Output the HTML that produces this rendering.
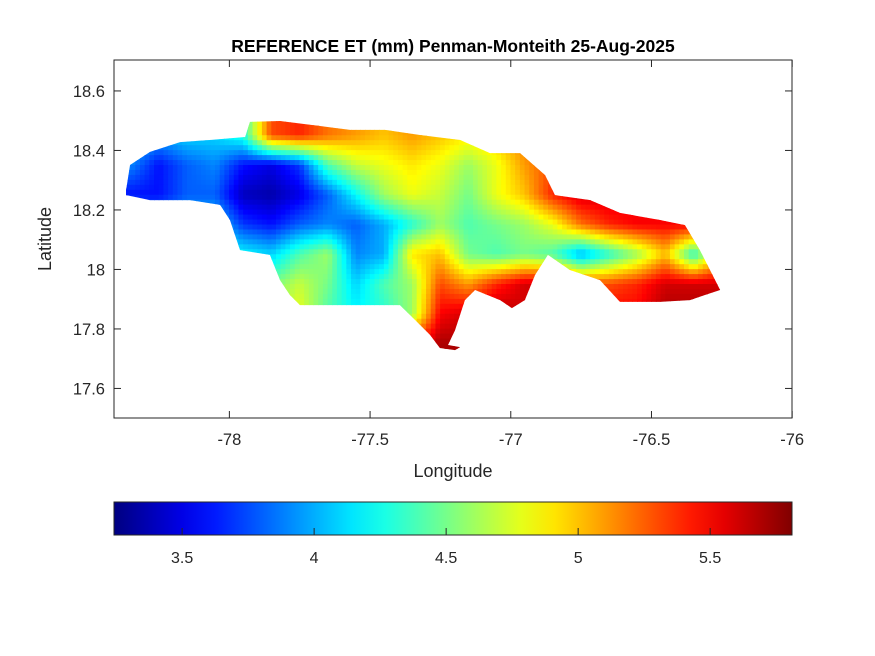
<!DOCTYPE html>
<html><head><meta charset="utf-8"><style>
body{margin:0;background:#fff;}
svg{display:block;font-family:"Liberation Sans",Arial,sans-serif;}
</style></head><body>
<svg id="chart" width="875" height="656" viewBox="0 0 875 656">
<defs>
<clipPath id="island"><polygon id="islandPoly"/></clipPath>
<linearGradient id="jetGrad" x1="0" x2="1" y1="0" y2="0"></linearGradient>
</defs>
<rect x="0" y="0" width="875" height="656" fill="#fff"/>
<text x="453" y="52" text-anchor="middle" font-size="17.5" font-weight="bold" fill="#000">REFERENCE ET (mm) Penman-Monteith 25-Aug-2025</text>
<g id="plot"></g>
<rect x="114" y="60" width="678" height="358" fill="none" stroke="#262626" stroke-width="1"/>
<g id="xticks"></g>
<g id="yticks"></g>
<text x="453" y="477" text-anchor="middle" font-size="18" fill="#262626">Longitude</text>
<text transform="translate(51,239) rotate(-90)" text-anchor="middle" font-size="18" fill="#262626">Latitude</text>
<rect x="114" y="502" width="678" height="33" fill="url(#jetGrad)"/>
<rect x="114" y="502" width="678" height="33" fill="none" stroke="#262626" stroke-width="1"/>
<g id="cticks"></g>
</svg>
<script>
const lonCenters=[-78.35,-78.25,-78.15,-78.05,-77.95,-77.85,-77.75,-77.65,-77.55,-77.45,-77.35,-77.25,-77.15,-77.05,-76.95,-76.85,-76.75,-76.65,-76.55,-76.45,-76.35,-76.25];
const latCenters=[18.45,18.35,18.25,18.15,18.05,17.95,17.85,17.75];
const etGrid=[
[4.1,4.0,4.1,4.1,4.3,5.3,5.4,5.2,5.1,5.0,5.1,5.0,4.9,5.0,5.2,5.3,5.4,5.5,5.5,5.5,5.5,5.5],
[3.9,3.6,3.8,3.9,3.6,3.5,3.7,4.4,4.7,4.8,4.9,4.8,4.6,4.8,5.1,5.3,5.5,5.5,5.5,5.5,5.5,5.5],
[3.6,3.6,3.8,3.8,3.4,3.35,3.5,3.8,4.2,4.6,4.8,4.7,4.5,4.8,5.0,5.4,5.6,5.6,5.5,5.5,5.6,5.6],
[4.2,4.1,4.1,4.1,3.7,3.6,3.8,3.9,3.8,4.0,4.3,4.6,4.4,4.5,4.6,4.8,5.2,5.4,5.5,5.5,5.5,5.5],
[4.3,4.3,4.3,4.3,4.2,4.1,4.4,4.6,3.9,4.0,4.9,5.0,4.5,4.4,4.5,4.4,4.0,4.3,4.6,5.0,4.3,5.0],
[4.5,4.5,4.5,4.5,4.6,4.5,4.7,4.5,4.1,4.4,4.6,5.3,5.1,5.4,5.6,5.6,5.3,5.3,5.4,5.6,5.6,5.6],
[4.6,4.6,4.6,4.6,4.7,4.6,4.8,4.4,4.2,4.3,4.6,5.5,5.6,5.7,5.6,5.5,5.5,5.5,5.5,5.7,5.7,5.7],
[4.5,4.5,4.5,4.5,4.5,4.5,4.5,4.5,4.5,4.6,5.4,5.7,5.7,5.7,5.6,5.6,5.6,5.6,5.6,5.6,5.6,5.6]];
const coastLon=[-78.367,-78.353,-78.282,-78.175,-78.069,-77.944,-77.927,-77.820,-77.678,-77.571,-77.447,-77.323,-77.180,-77.074,-76.967,-76.878,-76.843,-76.718,-76.612,-76.470,-76.381,-76.328,-76.292,-76.256,-76.310,-76.363,-76.470,-76.612,-76.683,-76.790,-76.868,-76.914,-76.950,-76.996,-77.038,-77.127,-77.163,-77.198,-77.223,-77.180,-77.198,-77.252,-77.287,-77.340,-77.394,-77.500,-77.607,-77.749,-77.785,-77.820,-77.856,-77.962,-77.998,-78.033,-78.140,-78.282,-78.367];
const coastLat=[18.267,18.351,18.395,18.428,18.435,18.445,18.496,18.499,18.482,18.469,18.469,18.452,18.435,18.391,18.391,18.317,18.250,18.233,18.190,18.166,18.149,18.065,17.998,17.931,17.914,17.897,17.891,17.891,17.964,17.998,18.049,17.981,17.897,17.870,17.897,17.931,17.897,17.796,17.746,17.739,17.729,17.736,17.780,17.830,17.880,17.880,17.880,17.880,17.914,17.964,18.049,18.065,18.166,18.217,18.233,18.233,18.250];
const xTicks=[-78,-77.5,-77,-76.5,-76];
const yTicks=[17.6,17.8,18,18.2,18.4,18.6];
const cTicks=[3.5,4,4.5,5,5.5];
const cMin=3.242, cMax=5.81;

const NS='http://www.w3.org/2000/svg';
const X=lon=>114+(lon+78.41)*281.4;
const Y=lat=>60+(18.704-lat)*297.5;
const C=v=>114+(v-cMin)/(cMax-cMin)*678;
function jet(t){t=Math.max(0,Math.min(1,t));
 const f=a=>Math.round(255*Math.max(0,Math.min(1,a)));
 return `rgb(${f(1.5-Math.abs(4*t-3))},${f(1.5-Math.abs(4*t-2))},${f(1.5-Math.abs(4*t-1))})`;}
function mk(tag,attrs,parent){const e=document.createElementNS(NS,tag);for(const k in attrs)e.setAttribute(k,attrs[k]);parent.appendChild(e);return e;}

document.getElementById('islandPoly').setAttribute('points',coastLon.map((l,i)=>X(l)+','+Y(coastLat[i])).join(' '));
const plot=document.getElementById('plot');
const clipG=mk('g',{'clip-path':'url(#island)'},plot);


// bilinear shading between grid values for display
const nR=latCenters.length,nC=lonCenters.length,SUB=6;
function val(fr,fc){fr=Math.max(0,Math.min(nR-1,fr));fc=Math.max(0,Math.min(nC-1,fc));
 const r0=Math.floor(fr),c0=Math.floor(fc),r1=Math.min(nR-1,r0+1),c1=Math.min(nC-1,c0+1),a=fr-r0,b=fc-c0;
 return (etGrid[r0][c0]*(1-b)+etGrid[r0][c1]*b)*(1-a)+(etGrid[r1][c0]*(1-b)+etGrid[r1][c1]*b)*a;}
const lon0=lonCenters[0],dLon=lonCenters[1]-lonCenters[0],lat0=latCenters[0],dLat=latCenters[1]-latCenters[0];
for(let i=-SUB;i<nR*SUB;i++){for(let j=-SUB;j<nC*SUB;j++){
 const fr=(i+0.5)/SUB-0.5, fc=(j+0.5)/SUB-0.5;
 const v=val(fr,fc);
 const lonA=lon0+(fc-0.5/SUB)*dLon, latA=lat0+(fr-0.5/SUB)*dLat;
 const x=X(lonA), y=Y(latA);
 const w=X(lonA+dLon/SUB)-x, h=Y(latA+dLat/SUB)-y;
 const cell=mk('rect',{x:x-0.3,y:y-0.3,width:w+0.6,height:h+0.6,fill:jet((v-cMin)/(cMax-cMin))},clipG);
 
 
}}

const xg=document.getElementById('xticks');
xTicks.forEach(t=>{const x=X(t);
 mk('line',{x1:x,x2:x,y1:418,y2:411,stroke:'#262626'},xg);
 mk('line',{x1:x,x2:x,y1:60,y2:67,stroke:'#262626'},xg);
 const tx=mk('text',{x:x,y:445,'text-anchor':'middle','font-size':'16.5',fill:'#262626'},xg);tx.textContent=String(t);
 
 });
const yg=document.getElementById('yticks');
yTicks.forEach(t=>{const y=Y(t);
 mk('line',{x1:114,x2:121,y1:y,y2:y,stroke:'#262626'},yg);
 mk('line',{x1:792,x2:785,y1:y,y2:y,stroke:'#262626'},yg);
 const tx=mk('text',{x:105,y:y+6,'text-anchor':'end','font-size':'16.5',fill:'#262626'},yg);tx.textContent=String(t);
 
 });
const grad=document.getElementById('jetGrad');
for(let i=0;i<=20;i++){mk('stop',{offset:(i/20),'stop-color':jet(i/20)},grad);}
const cg=document.getElementById('cticks');
cTicks.forEach(t=>{const x=C(t);
 mk('line',{x1:x,x2:x,y1:535,y2:528,stroke:'#262626'},cg);
 const tx=mk('text',{x:x,y:563,'text-anchor':'middle','font-size':'16',fill:'#262626'},cg);tx.textContent=String(t);
 
 });
</script>
</body></html>
